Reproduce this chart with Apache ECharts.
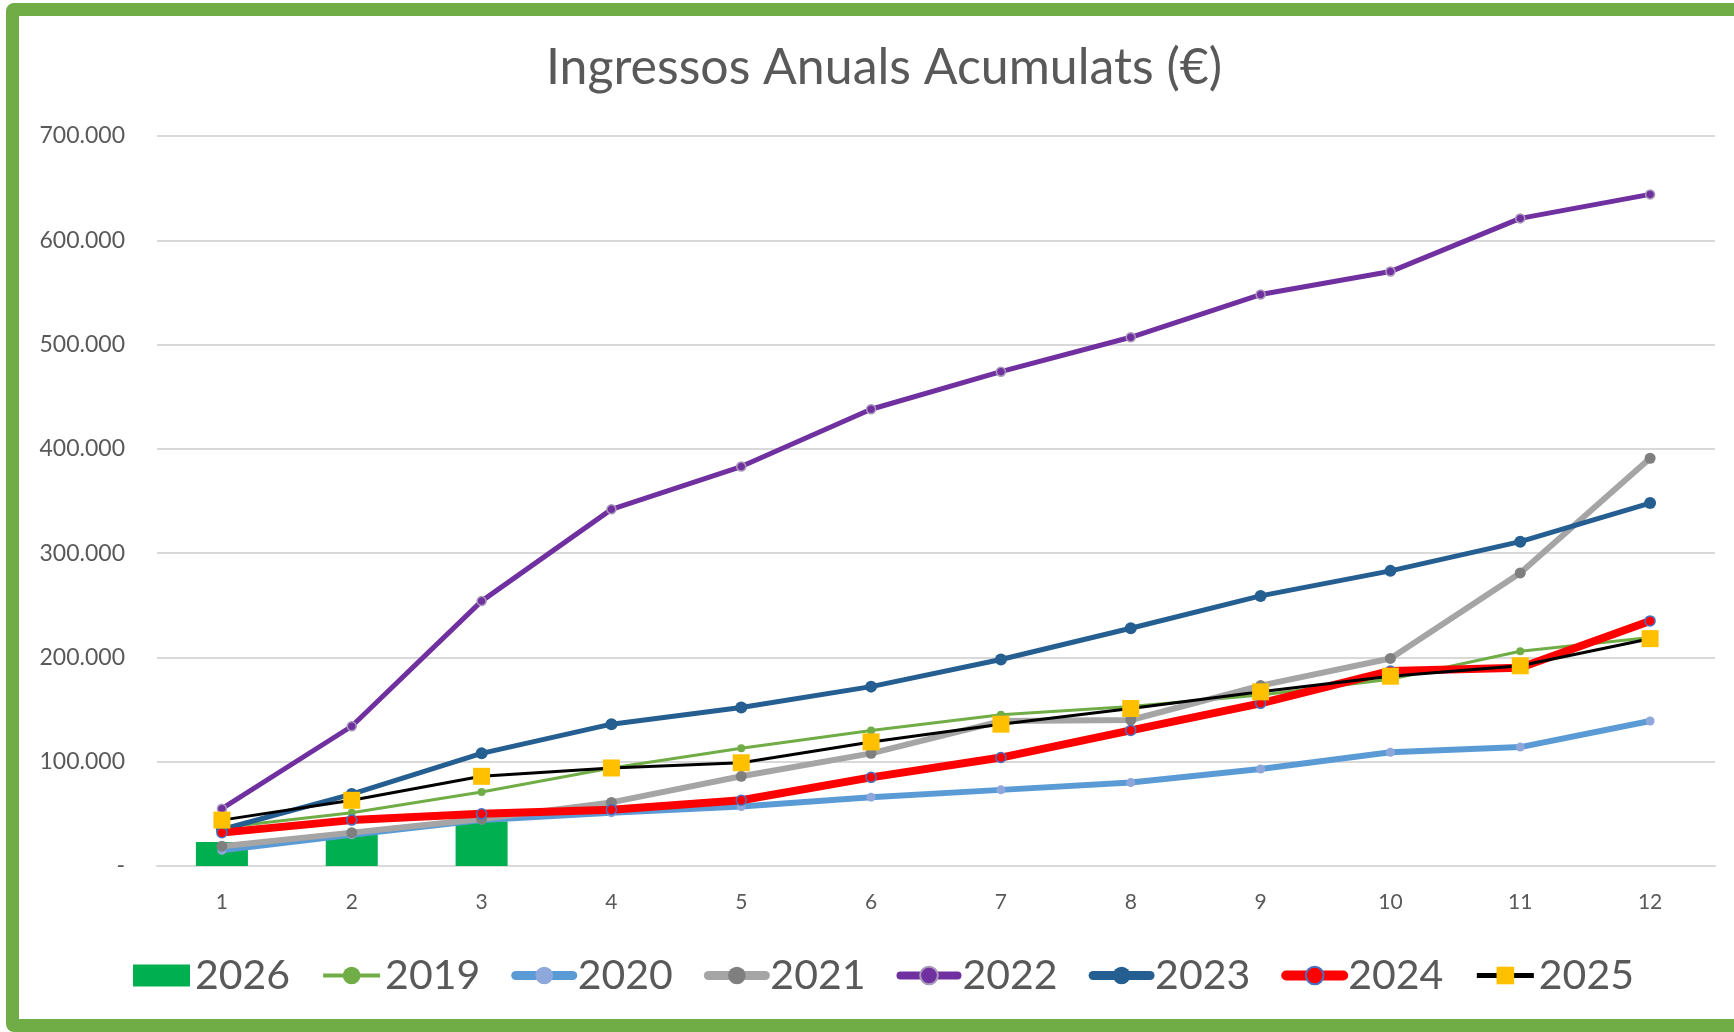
<!DOCTYPE html>
<html>
<head>
<meta charset="utf-8">
<script src="https://cdn.jsdelivr.net/npm/echarts@6/dist/echarts.min.js"></script>
<style>
	html, body { margin: 0; padding: 0; background: #fff; overflow: hidden; }
	#chart { width: 1734px; height: 1032px; }
	#frame {
		position: absolute; left: 6px; top: 3px; width: 1780px; height: 1029px;
		box-sizing: border-box; border: 13px solid #70AD47; border-radius: 8px;
		pointer-events: none;
	}
</style>
</head>
<body>
<div id="chart"></div>
<div id="frame"></div>
<script>
// dades llegides del gràfic
var mesos = ['1', '2', '3', '4', '5', '6', '7', '8', '9', '10', '11', '12'];
var any2026 = [23000, 30000, 43000];
var any2019 = [37000, 51000, 71000, 94000, 113000, 130000, 145000, 153000, 164000, 179000, 206000, 219000];
var any2020 = [15000, 30000, 44000, 51000, 57000, 66000, 73000, 80000, 93000, 109000, 114000, 139000];
var any2021 = [19000, 32000, 45000, 61000, 86000, 108000, 139000, 140000, 173000, 199000, 281000, 391000];
var any2022 = [55000, 134000, 254000, 342000, 383000, 438000, 474000, 507000, 548000, 570000, 621000, 644000];
var any2023 = [35000, 69000, 108000, 136000, 152000, 172000, 198000, 228000, 259000, 283000, 311000, 348000];
var any2024 = [32000, 44000, 50000, 54000, 63000, 85000, 104000, 130000, 156000, 187000, 190000, 235000];
var any2025 = [44000, 63000, 86000, 94000, 99000, 119000, 136000, 151000, 167000, 182000, 192000, 218000];

var font = 'Lato, "Open Sans", sans-serif';

function linia(nom, dades, color, gruix, simbol, mida, colorSimbol, vora) {
	return {
		name: nom,
		type: 'line',
		data: dades,
		symbol: simbol,
		symbolSize: mida,
		lineStyle: { color: color, width: gruix },
		itemStyle: { color: colorSimbol, borderColor: vora || colorSimbol, borderWidth: vora ? 1.5 : 0 },
		emphasis: { disabled: true }
	};
}

var chart = echarts.init(document.getElementById('chart'));

var option = {
	animation: false,
	title: {
		text: 'Ingressos Anuals Acumulats (€)',
		left: 879, textAlign: 'center',
		top: 38,
		textStyle: { fontFamily: font, fontSize: 50, fontWeight: 'normal', color: '#595959' }
	},
	legend: {
		left: 128, top: 950,
		itemWidth: 57, itemHeight: 22, itemGap: 31,
		textStyle: { fontFamily: font, fontSize: 41, color: '#595959' },
		data: [
			{ name: '2026', icon: 'rect' },
			{ name: '2019', lineStyle: { width: 4 } },
			{ name: '2020', lineStyle: { width: 9, cap: 'round' } },
			{ name: '2021', lineStyle: { width: 9, cap: 'round' } },
			{ name: '2022', lineStyle: { width: 8, cap: 'round' } },
			{ name: '2023', lineStyle: { width: 9, cap: 'round' } },
			{ name: '2024', lineStyle: { width: 10, cap: 'round' } },
			{ name: '2025', lineStyle: { width: 5 } }
		]
	},
	grid: { left: 157, right: 19, top: 136, bottom: 166 },
	xAxis: {
		type: 'category',
		data: mesos,
		axisLine: { lineStyle: { color: '#D9D9D9', width: 2 } },
		axisTick: { show: false },
		axisLabel: { fontFamily: font, fontSize: 21, color: '#595959', margin: 26 }
	},
	yAxis: {
		type: 'value',
		min: 0, max: 700000, interval: 100000,
		axisLine: { show: false },
		axisTick: { show: false },
		splitLine: { lineStyle: { color: '#D9D9D9', width: 2 } },
		axisLabel: {
			fontFamily: font, fontSize: 23, color: '#595959', margin: 32,
			formatter: function(v) {
				if (v === 0) return '-';
				return (v / 1000) + '.000';
			}
		}
	},
	series: [
		{
			name: '2026', type: 'bar', data: any2026, barWidth: 52,
			itemStyle: { color: '#00B050' }, emphasis: { disabled: true }
		},
		linia('2019', any2019, '#70AD47', 3, 'circle', 8, '#70AD47'),
		linia('2020', any2020, '#5B9BD5', 6, 'circle', 9, '#8FA8DC'),
		linia('2021', any2021, '#A5A5A5', 6, 'circle', 11, '#7F7F7F'),
		linia('2022', any2022, '#7030A0', 5, 'circle', 9, '#7030A0', '#A89AB8'),
		linia('2023', any2023, '#255E91', 5, 'circle', 12, '#255E91'),
		linia('2024', any2024, '#FF0000', 8, 'circle', 10, '#FF0000', '#4472C4'),
		linia('2025', any2025, '#000000', 3, 'rect', 17, '#FFC000')
	]
};

chart.setOption(option);
</script>
</body>
</html>
